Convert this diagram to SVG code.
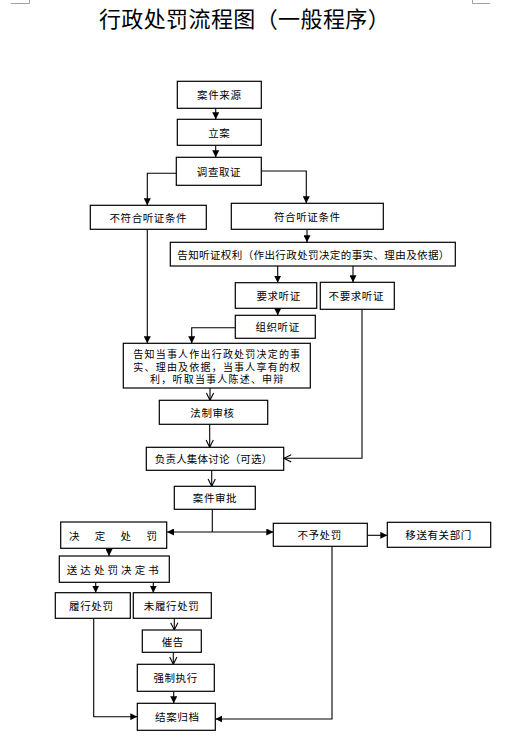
<svg xmlns="http://www.w3.org/2000/svg" width="519" height="741" viewBox="0 0 519 741">
<style>
.box{fill:#fff;stroke:#000;stroke-width:1.2}
.t{font-family:"Noto Sans CJK SC","Noto Sans CJK JP",sans-serif;font-size:10.5px;fill:#000;text-anchor:middle;dominant-baseline:central;letter-spacing:0.6px}
.ts{font-family:"Noto Sans CJK SC","Noto Sans CJK JP",sans-serif;font-size:10.5px;fill:#000;dominant-baseline:central}
.c{fill:none;stroke:#000;stroke-width:1.1}
.f{marker-end:url(#af)}
.o{marker-end:url(#ao)}
.mark{fill:none;stroke:#a0a0a0;stroke-width:1}
</style>
<defs>
<marker id="af" viewBox="0 0 8 8" refX="8" refY="4" markerWidth="7" markerHeight="7" markerUnits="userSpaceOnUse" orient="auto"><path d="M0,0 L8,4 L0,8 z" fill="#000"/></marker>
<marker id="ao" viewBox="0 0 10 10" refX="9" refY="5" markerWidth="9" markerHeight="9" markerUnits="userSpaceOnUse" orient="auto"><path d="M1,1 L9,5 L1,9" fill="none" stroke="#000" stroke-width="1.2"/></marker>
</defs>
<rect width="519" height="741" fill="#fff"/>
<path class="mark" d="M11,3.5 H29.5 V0 M490,3.5 H472.5 V0"/>
<text x="244.5" y="27" style="font-family:'Noto Sans CJK SC','Noto Sans CJK JP',sans-serif;font-size:22px;text-anchor:middle;letter-spacing:0.4px" fill="#000">行政处罚流程图（一般程序）</text>

<g id="connectors">
<path class="c f" d="M215.7,108.3 V119.3"/>
<path class="c f" d="M215.7,145.3 V157.3"/>
<path class="c f" d="M176.3,173.3 H147.3 V205.3"/>
<path class="c f" d="M261.3,171 H306.3 V203.3"/>
<path class="c f" d="M307,229.3 V242.3"/>
<path class="c f" d="M147.3,229.3 V343.3"/>
<path class="c f" d="M277.7,266 V282.7"/>
<path class="c f" d="M353,266 V282.3"/>
<path class="c f" d="M277.7,308.3 V315.3"/>
<path class="c f" d="M235.3,327.7 H191.7 V343.3"/>
<path class="c o" d="M210,388 V400.3"/>
<path class="c o" d="M362,309.3 V458.3 H284"/>
<path class="c o" d="M209.7,424.3 V447.3"/>
<path class="c o" d="M211.7,470.3 V486.3"/>
<path class="c" d="M212.3,509.3 V532"/>
<path class="c f" d="M212.3,532 H167"/>
<path class="c f" d="M212.3,532 H273.3"/>
<path class="c f" d="M367.3,535.3 H387.3"/>
<path class="c f" d="M109,548.3 V556"/>
<path class="c f" d="M95.7,582.3 V592.7"/>
<path class="c f" d="M153.3,582.3 V592.7"/>
<path class="c o" d="M174.3,618.3 V630"/>
<path class="c o" d="M173.3,652.3 V664.3"/>
<path class="c f" d="M173.7,691.3 V703.3"/>
<path class="c f" d="M93.7,618.3 V716.7 H137.3"/>
<path class="c f" d="M332,546.3 V719 H215.3"/>
</g>

<g id="n1"><rect class="box" x="177.3" y="81.3" width="84" height="27"/><text class="t" x="219.3" y="94.8">案件来源</text></g>
<g id="n2"><rect class="box" x="177.3" y="119.3" width="84" height="26"/><text class="t" x="219.3" y="132.3">立案</text></g>
<g id="n3"><rect class="box" x="176.3" y="157.3" width="85" height="28"/><text class="t" x="219" y="171.3">调查取证</text></g>
<g id="n4"><rect class="box" x="90.3" y="205.3" width="116" height="24"/><text class="t" x="148.3" y="217.3">不符合听证条件</text></g>
<g id="n5"><rect class="box" x="231.3" y="203.3" width="152" height="26"/><text class="t" x="307.3" y="216.3">符合听证条件</text></g>
<g id="n6"><rect class="box" x="170.3" y="242.3" width="285" height="23.7"/><text class="t" x="313.5" y="254.2" style="letter-spacing:0.4px">告知听证权利（作出行政处罚决定的事实、理由及依据）</text></g>
<g id="n7"><rect class="box" x="235.3" y="282.7" width="81.4" height="25.6"/><text class="t" x="278.6" y="295.5">要求听证</text></g>
<g id="n8"><rect class="box" x="320.3" y="282.3" width="74" height="27"/><text class="t" x="356.3" y="295.8">不要求听证</text></g>
<g id="n9"><rect class="box" x="235.3" y="315.3" width="80" height="23"/><text class="t" x="277.6" y="326.8">组织听证</text></g>
<g id="n10"><rect class="box" x="123.3" y="343.3" width="187" height="44.7"/>
<text class="t" style="font-size:10px;letter-spacing:1.2px"><tspan x="217.3" y="353.2">告知当事人作出行政处罚决定的事</tspan><tspan x="217.3" y="365.7">实、理由及依据，当事人享有的权</tspan><tspan x="217.3" y="378.2">利，听取当事人陈述、申辩</tspan></text></g>
<g id="n11"><rect class="box" x="159.3" y="400.3" width="108.4" height="24"/><text class="t" x="212.5" y="412.3">法制审核</text></g>
<g id="n12"><rect class="box" x="146.3" y="447.3" width="137.4" height="23"/><text class="t" x="213.6" y="458.8" style="letter-spacing:0.2px">负责人集体讨论（可选）</text></g>
<g id="n13"><rect class="box" x="174.3" y="486.3" width="81" height="23"/><text class="t" x="215" y="497.8">案件审批</text></g>
<g id="n14"><rect class="box" x="60.7" y="522" width="106" height="26.3"/><text class="ts" x="69" y="535.2" style="letter-spacing:15.3px">决定处罚</text></g>
<g id="n15"><rect class="box" x="273.3" y="523.3" width="94" height="23"/><text class="t" x="319.6" y="534.8">不予处罚</text></g>
<g id="n16"><rect class="box" x="387.3" y="522.3" width="103.4" height="25"/><text class="t" x="438.6" y="534.8">移送有关部门</text></g>
<g id="n17"><rect class="box" x="59.3" y="556" width="110" height="26.3"/><text class="ts" x="66.7" y="569.2" style="letter-spacing:3.1px">送达处罚决定书</text></g>
<g id="n18"><rect class="box" x="55.3" y="592.7" width="75" height="25.6"/><text class="t" x="91.3" y="605.5">履行处罚</text></g>
<g id="n19"><rect class="box" x="133.3" y="592.7" width="78" height="25.6"/><text class="t" x="171.6" y="605.5">未履行处罚</text></g>
<g id="n20"><rect class="box" x="142.3" y="630" width="59" height="22.3"/><text class="t" x="172.8" y="641.2">催告</text></g>
<g id="n21"><rect class="box" x="137.3" y="664.3" width="77" height="27"/><text class="t" x="175.6" y="677.8">强制执行</text></g>
<g id="n22"><rect class="box" x="137.3" y="703.3" width="78" height="27"/><text class="t" x="177.3" y="716.8">结案归档</text></g>
</svg>
